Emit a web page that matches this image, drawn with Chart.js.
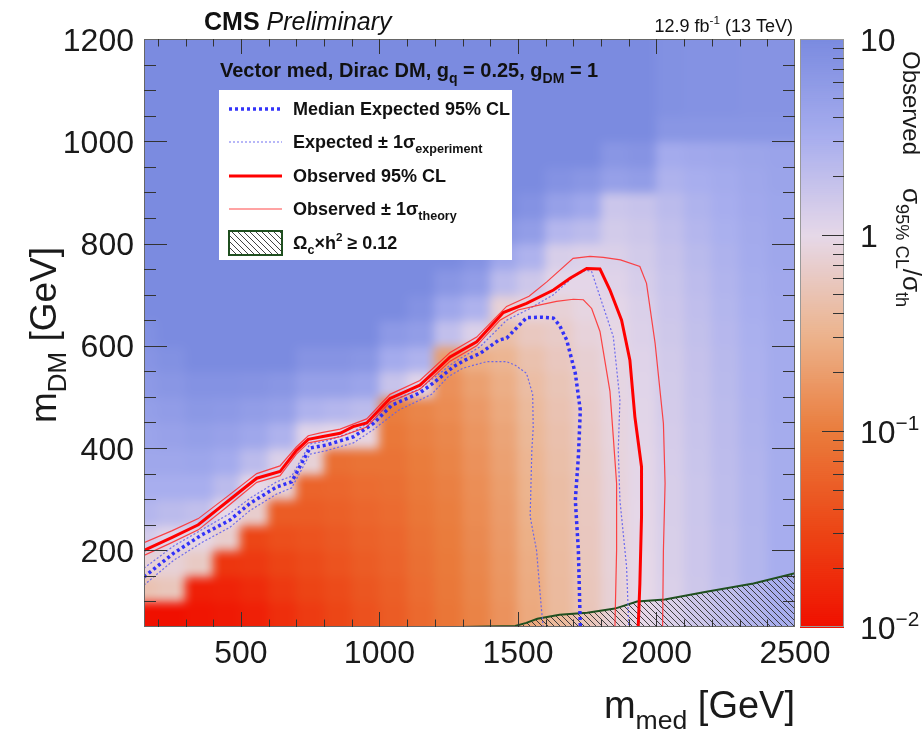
<!DOCTYPE html>
<html>
<head>
<meta charset="utf-8">
<script src="https://cdn.jsdelivr.net/npm/chart.js@4.4.0/dist/chart.umd.min.js"></script>
<style>
html, body { margin: 0; padding: 0; background: #fff; }
#marco { width: 922px; height: 730px; position: relative; }
</style>
</head>
<body>
<div id="marco"><canvas id="grafico"></canvas></div>
<script>
// Bordes de las celdas del mapa (GeV)
const bordesMed = [150, 200, 300, 400, 500, 600, 700, 800, 900, 1000, 1100, 1200, 1300,
  1400, 1500, 1600, 1700, 1800, 1900, 2000, 2100, 2200, 2300, 2400, 2500];
const bordesDM = [50, 100, 150, 200, 250, 300, 350, 400, 450, 500, 550, 600, 650, 700,
  750, 800, 850, 900, 950, 1000, 1050, 1100, 1150, 1200];

// log10(sigma95 / sigma_th) observado: una columna por bin de m_med, filas de abajo a arriba
const mapaLog = [
  [-2.0, -0.3, -0.1, 0.15, 0.4, 0.5, 0.6, 0.65, 0.72, 0.8, 0.87, 0.93, 1, 1, 1, 1, 1, 1, 1, 1, 1, 1, 1],
  [-2.0, -0.25, -0.1, 0.05, 0.35, 0.5, 0.6, 0.68, 0.76, 0.84, 0.92, 1, 1, 1, 1, 1, 1, 1, 1, 1, 1, 1, 1],
  [-1.95, -1.85, -0.2, -0.02, 0.3, 0.5, 0.62, 0.72, 0.82, 0.9, 1, 1, 1, 1, 1, 1, 1, 1, 1, 1, 1, 1, 1],
  [-1.92, -1.82, -1.65, -0.15, 0.0, 0.35, 0.55, 0.68, 0.8, 0.9, 1, 1, 1, 1, 1, 1, 1, 1, 1, 1, 1, 1, 1],
  [-1.85, -1.75, -1.62, -1.5, -0.15, 0.0, 0.35, 0.6, 0.75, 0.88, 1, 1, 1, 1, 1, 1, 1, 1, 1, 1, 1, 1, 1],
  [-1.72, -1.62, -1.52, -1.42, -1.3, -0.1, 0.1, 0.45, 0.7, 0.85, 1, 1, 1, 1, 1, 1, 1, 1, 1, 1, 1, 1, 1],
  [-1.6, -1.52, -1.45, -1.38, -1.3, -1.22, -0.1, 0.05, 0.45, 0.7, 0.88, 1, 1, 1, 1, 1, 1, 1, 1, 1, 1, 1, 1],
  [-1.5, -1.45, -1.38, -1.32, -1.26, -1.2, -1.12, 0.0, 0.4, 0.7, 0.88, 1, 1, 1, 1, 1, 1, 1, 1, 1, 1, 1, 1],
  [-1.4, -1.35, -1.3, -1.25, -1.2, -1.15, -1.08, -0.05, 0.35, 0.65, 0.85, 1, 1, 1, 1, 1, 1, 1, 1, 1, 1, 1, 1],
  [-1.3, -1.27, -1.23, -1.2, -1.16, -1.12, -1.08, -1.04, -0.98, 0.25, 0.55, 0.8, 1, 1, 1, 1, 1, 1, 1, 1, 1, 1, 1],
  [-1.18, -1.15, -1.12, -1.09, -1.06, -1.03, -1.0, -0.96, -0.92, 0.05, 0.45, 0.75, 0.9, 1, 1, 1, 1, 1, 1, 1, 1, 1, 1],
  [-1.06, -1.04, -1.02, -1.0, -0.98, -0.96, -0.93, -0.9, -0.86, -0.82, -0.7, 0.3, 0.6, 0.85, 1, 1, 1, 1, 1, 1, 1, 1, 1],
  [-0.94, -0.92, -0.9, -0.88, -0.86, -0.84, -0.81, -0.78, -0.74, -0.68, -0.55, 0.1, 0.45, 0.75, 0.9, 1, 1, 1, 1, 1, 1, 1, 1],
  [-0.8, -0.78, -0.76, -0.74, -0.72, -0.7, -0.67, -0.64, -0.6, -0.55, -0.48, -0.35, -0.1, 0.35, 0.6, 0.85, 1, 1, 1, 1, 1, 1, 1],
  [-0.6, -0.58, -0.56, -0.54, -0.52, -0.5, -0.48, -0.45, -0.42, -0.38, -0.32, -0.22, -0.05, 0.2, 0.45, 0.75, 0.9, 1, 1, 1, 1, 1, 1],
  [-0.42, -0.41, -0.4, -0.39, -0.38, -0.37, -0.35, -0.33, -0.3, -0.27, -0.23, -0.18, -0.1, 0.02, 0.12, 0.4, 0.7, 0.9, 1, 1, 1, 1, 1],
  [-0.26, -0.25, -0.24, -0.23, -0.22, -0.21, -0.2, -0.18, -0.16, -0.14, -0.12, -0.08, -0.04, 0.02, 0.08, 0.35, 0.6, 0.85, 1, 1, 1, 1, 1],
  [-0.1, -0.1, -0.09, -0.09, -0.08, -0.08, -0.07, -0.06, -0.05, -0.04, -0.03, -0.02, 0.02, 0.06, 0.1, 0.16, 0.22, 0.7, 0.85, 1, 1, 1, 1],
  [0.0, 0.0, 0.0, 0.01, 0.01, 0.02, 0.02, 0.03, 0.04, 0.05, 0.06, 0.08, 0.1, 0.13, 0.16, 0.2, 0.25, 0.75, 0.88, 1, 1, 1, 1],
  [0.1, 0.1, 0.11, 0.11, 0.12, 0.12, 0.13, 0.14, 0.15, 0.16, 0.17, 0.19, 0.21, 0.23, 0.26, 0.3, 0.35, 0.45, 0.55, 0.85, 0.92, 0.92, 0.92],
  [0.2, 0.2, 0.21, 0.21, 0.22, 0.22, 0.23, 0.24, 0.25, 0.26, 0.27, 0.29, 0.31, 0.33, 0.36, 0.4, 0.44, 0.5, 0.58, 0.85, 0.9, 0.9, 0.9],
  [0.3, 0.3, 0.31, 0.31, 0.32, 0.32, 0.33, 0.34, 0.35, 0.36, 0.37, 0.39, 0.41, 0.43, 0.45, 0.48, 0.51, 0.55, 0.6, 0.85, 0.9, 0.9, 0.9],
  [0.4, 0.4, 0.41, 0.41, 0.42, 0.42, 0.43, 0.44, 0.45, 0.46, 0.47, 0.48, 0.5, 0.52, 0.54, 0.56, 0.58, 0.6, 0.63, 0.85, 0.88, 0.88, 0.88],
  [0.5, 0.5, 0.5, 0.51, 0.51, 0.52, 0.52, 0.53, 0.54, 0.54, 0.55, 0.56, 0.57, 0.58, 0.6, 0.61, 0.62, 0.64, 0.66, 0.85, 0.88, 0.88, 0.88]
];

// Contornos (m_med, m_DM) en GeV
const obsMed = [150, 250, 346, 450, 557, 641, 700, 743, 791, 858, 905, 954, 1038, 1100, 1146, 1200, 1255, 1351, 1447, 1531, 1628, 1688, 1748, 1796, 1832, 1874, 1904, 1922, 1946, 1946, 1940, 1934];
const obsDM = [200, 225, 250, 295, 341, 354, 395, 417, 422, 429, 442, 449, 497, 512, 523, 550, 578, 608, 665, 683, 709, 732, 751, 750, 709, 650, 572, 461, 363, 266, 135, 50];

const obsAltoMed = [150, 250, 346, 450, 557, 641, 700, 743, 791, 858, 954, 1038, 1146, 1255, 1351, 1459, 1540, 1604, 1699, 1760, 1808, 1870, 1940, 1964, 1995, 2025, 2031, 2025, 2022];
const obsAltoDM = [215, 238, 262, 305, 350, 365, 402, 424, 430, 437, 457, 505, 532, 587, 617, 677, 697, 725, 771, 775, 773, 768, 755, 722, 605, 448, 331, 200, 50];

const obsBajoMed = [150, 250, 346, 450, 557, 641, 700, 743, 791, 858, 954, 1038, 1146, 1255, 1351, 1435, 1500, 1580, 1639, 1700, 1736, 1766, 1796, 1832, 1844, 1856, 1856, 1850];
const obsBajoDM = [190, 215, 240, 285, 333, 346, 388, 410, 415, 422, 441, 490, 515, 570, 600, 650, 670, 680, 687, 691, 690, 673, 628, 511, 422, 331, 200, 50];

const espMed = [150, 256, 358, 460, 533, 629, 683, 749, 809, 906, 978, 1045, 1146, 1194, 1267, 1309, 1363, 1430, 1459, 1531, 1580, 1628, 1650, 1676, 1707, 1725, 1718, 1707, 1718, 1725];
const espDM = [148, 194, 230, 259, 292, 324, 334, 400, 406, 422, 448, 484, 508, 527, 559, 572, 585, 611, 615, 655, 656, 654, 640, 611, 546, 474, 383, 298, 200, 50];

const espAltoMed = [150, 256, 358, 460, 533, 629, 683, 749, 809, 906, 978, 1045, 1146, 1267, 1363, 1459, 1540, 1628, 1700, 1745, 1766, 1796, 1844, 1868, 1862, 1868, 1892, 1900];
const espAltoDM = [165, 208, 240, 272, 302, 334, 345, 408, 414, 432, 455, 492, 516, 567, 598, 650, 672, 700, 735, 748, 745, 696, 618, 494, 396, 298, 168, 50];

const espBajoMed = [150, 256, 358, 460, 533, 629, 683, 749, 809, 906, 978, 1069, 1146, 1188, 1249, 1300, 1387, 1459, 1490, 1531, 1553, 1555, 1550, 1544, 1567, 1585, 1591];
const espBajoDM = [132, 180, 215, 245, 278, 310, 322, 388, 395, 410, 436, 474, 494, 505, 540, 556, 569, 569, 562, 546, 505, 440, 396, 266, 200, 83, 50];

// Densidad reliquia Omega h^2 = 0.12
const reliqMed = [1290, 1490, 1530, 1570, 1650, 1750, 1850, 1930, 2030, 2180, 2350, 2500];
const reliqDM = [50, 52, 58, 66, 74, 78, 86, 100, 104, 119, 135, 155];

// Ejes
const ticksMed = [500, 1000, 1500, 2000, 2500];
const ticksDM = [200, 400, 600, 800, 1000, 1200];

// Paleta (log10 del cociente -> color)
const paletaPos = [-2, -1.5, -1, -0.5, 0, 0.5, 1];
const paletaRGB = [[240, 16, 0], [236, 70, 22], [234, 124, 60], [236, 180, 142], [230, 216, 232], [168, 174, 238], [123, 139, 224]];

const FAMILIA = '"Liberation Sans", Arial, Helvetica, sans-serif';

function colorDe(v) {
    v = Math.max(-2, Math.min(1, v));
    let k = 0;
    while (k < paletaPos.length - 2 && v > paletaPos[k + 1]) k++;
    const t = (v - paletaPos[k]) / (paletaPos[k + 1] - paletaPos[k]);
    const a = paletaRGB[k], b = paletaRGB[k + 1];
    const c = a.map((q, i) => Math.round(q + (b[i] - q) * t));
    return `rgb(${c[0]},${c[1]},${c[2]})`;
}

function puntos(xs, ys) {
    return xs.map((x, i) => ({ x: x, y: ys[i] }));
}

function crearTrama() {
    const c = document.createElement('canvas');
    c.width = 6; c.height = 6;
    const g = c.getContext('2d');
    g.strokeStyle = 'rgba(45,45,45,0.9)';
    g.lineWidth = 1;
    g.beginPath();
    g.moveTo(0, 0); g.lineTo(6, 6);
    g.moveTo(-1, 5); g.lineTo(1, 7);
    g.moveTo(5, -1); g.lineTo(7, 1);
    g.stroke();
    return g.createPattern(c, 'repeat');
}
const trama = crearTrama();

// suavizado del mapa (caja separable, dos pasadas)
function suavizar(img, w, h, r) {
    const d = img.data;
    const tmp = new Float32Array(w * h * 3);
    const n = 2 * r + 1;
    for (let pasada = 0; pasada < 2; pasada++) {
        for (let yy = 0; yy < h; yy++) {
            for (let c = 0; c < 3; c++) {
                let acc = 0;
                for (let k = -r; k <= r; k++) acc += d[(yy * w + Math.min(w - 1, Math.max(0, k))) * 4 + c];
                for (let xx = 0; xx < w; xx++) {
                    tmp[(yy * w + xx) * 3 + c] = acc / n;
                    const xo = Math.max(0, xx - r), xi = Math.min(w - 1, xx + r + 1);
                    acc += d[(yy * w + xi) * 4 + c] - d[(yy * w + xo) * 4 + c];
                }
            }
        }
        for (let xx = 0; xx < w; xx++) {
            for (let c = 0; c < 3; c++) {
                let acc = 0;
                for (let k = -r; k <= r; k++) acc += tmp[(Math.min(h - 1, Math.max(0, k)) * w + xx) * 3 + c];
                for (let yy = 0; yy < h; yy++) {
                    d[(yy * w + xx) * 4 + c] = acc / n;
                    const yo = Math.max(0, yy - r), yi = Math.min(h - 1, yy + r + 1);
                    acc += tmp[(yi * w + xx) * 3 + c] - tmp[(yo * w + xx) * 3 + c];
                }
            }
        }
    }
}

// texto con subindices / superindices
function escribir(ctx, partes, x, y, o) {
    const size = o.size;
    const fuente = s => `${o.estilo || 'normal'} ${o.peso || 'normal'} ${s}px ${FAMILIA}`;
    let ancho = 0;
    const items = partes.map(p => {
        const t = typeof p === 'string' ? p : p[0];
        const modo = typeof p === 'string' ? '' : p[1];
        const s = modo === 'sub' ? size * 0.7 : modo === 'sup' ? size * 0.65 : size;
        ctx.font = fuente(s);
        const w = ctx.measureText(t).width;
        const dy = modo === 'sub' ? size * 0.28 : modo === 'sup' ? -size * 0.42 : 0;
        ancho += w;
        return { t, s, w, dy };
    });
    let x0 = o.alinear === 'right' ? x - ancho : o.alinear === 'center' ? x - ancho / 2 : x;
    ctx.fillStyle = o.color || '#111';
    ctx.textAlign = 'left';
    ctx.textBaseline = 'alphabetic';
    items.forEach(it => {
        ctx.font = fuente(it.s);
        ctx.fillText(it.t, x0, y + it.dy);
        x0 += it.w;
    });
    return ancho;
}

const estilos = {
    obs: { borderColor: '#ff0000', borderWidth: 3, borderDash: [] },
    obsSigma: { borderColor: 'rgba(255,40,40,0.85)', borderWidth: 1.2, borderDash: [] },
    esp: { borderColor: 'rgba(40,40,250,0.95)', borderWidth: 3.5, borderDash: [3, 3] },
    espSigma: { borderColor: 'rgba(95,95,240,0.9)', borderWidth: 1.2, borderDash: [2, 2] }
};

function linea(etiqueta, datos, estilo) {
    return Object.assign({
        label: etiqueta,
        data: datos,
        showLine: true,
        pointRadius: 0,
        tension: 0,
        fill: false,
        xAxisID: 'x',
        yAxisID: 'y'
    }, estilo);
}

// Mapa de color de fondo
const pluginMapa = {
    id: 'mapa',
    beforeDatasetsDraw(chart) {
        const { ctx, chartArea: ca, scales: { x, y } } = chart;
        const off = document.createElement('canvas');
        off.width = chart.width; off.height = chart.height;
        const oc = off.getContext('2d');
        mapaLog.forEach((col, i) => {
            let x0 = x.getPixelForValue(bordesMed[i]);
            let x1 = x.getPixelForValue(bordesMed[i + 1]);
            if (i === 0) x0 -= 20;
            if (i === mapaLog.length - 1) x1 += 20;
            col.forEach((v, j) => {
                let y0 = y.getPixelForValue(bordesDM[j + 1]);
                let y1 = y.getPixelForValue(bordesDM[j]);
                if (j === 0) y1 += 20;
                if (j === col.length - 1) y0 -= 20;
                oc.fillStyle = colorDe(v);
                oc.fillRect(Math.floor(x0), Math.floor(y0), Math.ceil(x1 - x0) + 1, Math.ceil(y1 - y0) + 1);
            });
        });
        const rx = Math.floor(ca.left) - 16, ry = Math.floor(ca.top) - 16;
        const rw = Math.ceil(ca.width) + 32, rh = Math.ceil(ca.height) + 32;
        const img = oc.getImageData(rx, ry, rw, rh);
        suavizar(img, rw, rh, 5);
        oc.putImageData(img, rx, ry);
        ctx.save();
        ctx.beginPath();
        ctx.rect(ca.left, ca.top, ca.width, ca.height);
        ctx.clip();
        ctx.drawImage(off, 0, 0, chart.width, chart.height);
        ctx.restore();
    }
};

// Marco, marcas, leyenda, barra de color y textos
const pluginMarco = {
    id: 'marco',
    afterDraw(chart) {
        const { ctx, chartArea: ca, scales: { x, y, yc } } = chart;
        ctx.save();

        // Leyenda
        const lx = ca.left + 75, ly = ca.top + 51;
        ctx.fillStyle = '#ffffff';
        ctx.fillRect(lx, ly, 293, 170);
        const filas = [
            { e: estilos.esp, t: ['Median Expected 95% CL'] },
            { e: estilos.espSigma, t: ['Expected \u00b1 1\u03c3', ['experiment', 'sub']] },
            { e: estilos.obs, t: ['Observed 95% CL'] },
            { e: estilos.obsSigma, t: ['Observed \u00b1 1\u03c3', ['theory', 'sub']] },
            { e: null, t: ['\u03a9', ['c', 'sub'], '\u00d7h', ['2', 'sup'], ' \u2265 0.12'] }
        ];
        const filasY = [19, 52, 86, 119, 153];
        filas.forEach((f, i) => {
            const yy = ly + filasY[i];
            if (f.e) {
                ctx.strokeStyle = f.e.borderColor;
                ctx.lineWidth = f.e.borderWidth;
                ctx.setLineDash(f.e.borderDash);
                ctx.beginPath();
                ctx.moveTo(lx + 10, yy);
                ctx.lineTo(lx + 63, yy);
                ctx.stroke();
                ctx.setLineDash([]);
            } else {
                ctx.fillStyle = '#fff';
                ctx.fillRect(lx + 10, yy - 12, 53, 24);
                ctx.fillStyle = trama;
                ctx.fillRect(lx + 10, yy - 12, 53, 24);
                ctx.strokeStyle = '#1f4f1f';
                ctx.lineWidth = 2;
                ctx.strokeRect(lx + 10, yy - 12, 53, 24);
            }
            escribir(ctx, f.t, lx + 74, yy + 6, { size: 18, peso: 'bold', color: '#111' });
        });
        escribir(ctx, ['Vector med, Dirac DM, g', ['q', 'sub'], ' = 0.25, g', ['DM', 'sub'], ' = 1'],
            ca.left + 76, ca.top + 38, { size: 20, peso: 'bold', color: '#111' });

        // Marco
        ctx.strokeStyle = '#666';
        ctx.lineWidth = 1;
        ctx.strokeRect(ca.left + 0.5, ca.top + 0.5, ca.width - 1, ca.height - 1);

        // Marcas hacia dentro
        ctx.strokeStyle = '#333';
        ctx.beginPath();
        for (let m = 200; m < 2500; m += 100) {
            const px = Math.round(x.getPixelForValue(m)) + 0.5;
            const largo = m % 500 === 0 ? 15 : 7.5;
            ctx.moveTo(px, ca.bottom); ctx.lineTo(px, ca.bottom - largo);
            ctx.moveTo(px, ca.top); ctx.lineTo(px, ca.top + largo);
        }
        for (let m = 100; m < 1200; m += 50) {
            const py = Math.round(y.getPixelForValue(m)) + 0.5;
            const largo = m % 200 === 0 ? 23 : 12;
            ctx.moveTo(ca.left, py); ctx.lineTo(ca.left + largo, py);
            ctx.moveTo(ca.right, py); ctx.lineTo(ca.right - largo, py);
        }
        ctx.stroke();

        // Etiquetas de los ejes
        ticksMed.forEach(v => {
            escribir(ctx, [String(v)], x.getPixelForValue(v), 663, { size: 32, alinear: 'center', color: '#1a1a1a' });
        });
        ticksDM.forEach(v => {
            escribir(ctx, [String(v)], 134, y.getPixelForValue(v) + 11.5, { size: 32, alinear: 'right', color: '#1a1a1a' });
        });
        escribir(ctx, ['m', ['med', 'sub'], ' [GeV]'], ca.right, 718, { size: 38, alinear: 'right', color: '#1a1a1a' });
        ctx.save();
        ctx.translate(56, 335);
        ctx.rotate(-Math.PI / 2);
        escribir(ctx, ['m', ['DM', 'sub'], ' [GeV]'], 0, 0, { size: 37, alinear: 'center', color: '#1a1a1a' });
        ctx.restore();

        // Barra de color
        const bx0 = ca.right + 5, bx1 = ca.right + 49;
        const pasos = 300;
        for (let k = 0; k < pasos; k++) {
            const a = -2 + 3 * k / pasos, b = -2 + 3 * (k + 1) / pasos;
            const ya = yc.getPixelForValue(Math.pow(10, a));
            const yb = yc.getPixelForValue(Math.pow(10, b));
            ctx.fillStyle = colorDe((a + b) / 2);
            ctx.fillRect(bx0, yb, bx1 - bx0, ya - yb + 1);
        }
        ctx.strokeStyle = '#999';
        ctx.strokeRect(bx0 + 0.5, ca.top + 0.5, bx1 - bx0 - 1, ca.height - 1);
        ctx.strokeStyle = '#333';
        ctx.beginPath();
        for (let d = -2; d < 1; d++) {
            for (let k = 1; k < 10; k++) {
                const v = k * Math.pow(10, d);
                if (v <= 0.01) continue;
                const py = Math.round(yc.getPixelForValue(v)) + 0.5;
                const largo = k === 1 ? 22 : 11;
                ctx.moveTo(bx1, py); ctx.lineTo(bx1 - largo, py);
            }
        }
        ctx.stroke();
        const etiqColor = [[['10'], 10], [['1'], 1], [['10', ['\u22121', 'sup']], 0.1], [['10', ['\u22122', 'sup']], 0.01]];
        etiqColor.forEach(([p, v]) => {
            escribir(ctx, p, 860, yc.getPixelForValue(v) + 12, { size: 32, color: '#1a1a1a' });
        });
        ctx.save();
        ctx.translate(903, ca.top + 12);
        ctx.rotate(Math.PI / 2);
        escribir(ctx, ['Observed'], 0, 0, { size: 24, color: '#1a1a1a' });
        escribir(ctx, ['\u03c3', ['95% CL', 'sub'], '/\u03c3', ['th', 'sub']], 137, 0, { size: 26, color: '#1a1a1a' });
        ctx.restore();

        // Cabecera
        const wc = escribir(ctx, ['CMS'], 204, 30, { size: 25, peso: 'bold', color: '#111' });
        escribir(ctx, ['Preliminary'], 204 + wc + 7, 30, { size: 25, estilo: 'italic', color: '#111' });
        escribir(ctx, ['12.9 fb', ['-1', 'sup'], ' (13 TeV)'], ca.right - 2, 32, { size: 18, alinear: 'right', color: '#111' });

        ctx.restore();
    }
};

new Chart(document.getElementById('grafico'), {
    type: 'scatter',
    data: {
        datasets: [
            linea('Observed 95% CL', puntos(obsMed, obsDM), estilos.obs),
            linea('Observed +1 sigma', puntos(obsAltoMed, obsAltoDM), estilos.obsSigma),
            linea('Observed -1 sigma', puntos(obsBajoMed, obsBajoDM), estilos.obsSigma),
            linea('Median Expected 95% CL', puntos(espMed, espDM), estilos.esp),
            linea('Expected +1 sigma', puntos(espAltoMed, espAltoDM), estilos.espSigma),
            linea('Expected -1 sigma', puntos(espBajoMed, espBajoDM), estilos.espSigma),
            Object.assign(linea('Omega h2 >= 0.12', puntos(reliqMed, reliqDM),
                { borderColor: '#1f4f1f', borderWidth: 2, borderDash: [] }),
                { fill: 'start', backgroundColor: trama })
        ]
    },
    options: {
        responsive: true,
        maintainAspectRatio: false,
        animation: false,
        events: [],
        layout: { padding: { left: 144, right: 127, top: 39, bottom: 103 } },
        scales: {
            x: { type: 'linear', min: 150, max: 2500, display: false },
            y: { type: 'linear', min: 50, max: 1200, display: false },
            yc: { type: 'logarithmic', min: 0.01, max: 10, display: false, position: 'right' }
        },
        plugins: {
            legend: { display: false },
            tooltip: { enabled: false }
        }
    },
    plugins: [pluginMapa, pluginMarco]
});
</script>
</body>
</html>
